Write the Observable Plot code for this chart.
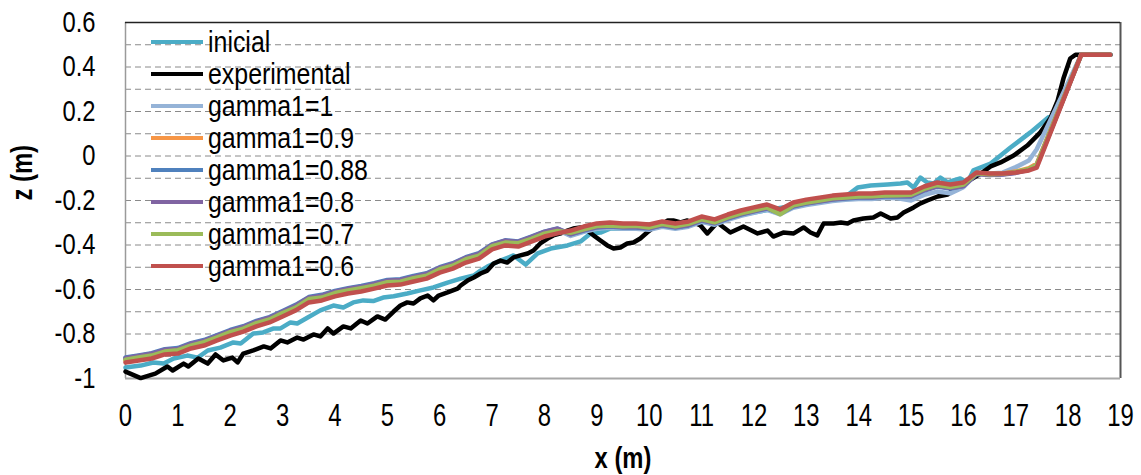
<!DOCTYPE html>
<html>
<head>
<meta charset="utf-8">
<script src="https://cdn.jsdelivr.net/npm/d3@7"></script>
<script src="https://cdn.jsdelivr.net/npm/@observablehq/plot@0.6"></script>
<style>
  html, body { margin: 0; padding: 0; background: #fff; }
  #wrap { position: relative; width: 1141px; height: 475px; }
  #legend { position: absolute; left: 150px; top: 26px; }
  .row { display: flex; align-items: center; height: 32px; }
  .row svg { display: block; margin-right: 4px; flex: none; }
  .row span { display: inline-block; font-family: 'Liberation Sans', Arial, sans-serif; font-size: 30px; color: #000; line-height: 32px; white-space: nowrap; transform: scaleX(0.83); transform-origin: left center; }
</style>
</head>
<body>
<div id="wrap"><div id="legend"></div></div>
<script>
const FONT = "'Liberation Sans', Arial, sans-serif";

// ---- ticks / grid ----
const xTicks = [0,1,2,3,4,5,6,7,8,9,10,11,12,13,14,15,16,17,18,19];
const yTicks = [-1,-0.8,-0.6,-0.4,-0.2,0,0.2,0.4,0.6];
const gridLevels = [-0.9,-0.8,-0.7,-0.6,-0.5,-0.4,-0.3,-0.2,-0.1,0,0.1,0.2,0.3,0.4,0.5];
const xDomain = [0, 19];
const yDomain = [-1, 0.6];

// ---- series names / colours ----
const names = ["inicial","experimental","gamma1=1","gamma1=0.9","gamma1=0.88","gamma1=0.8","gamma1=0.7","gamma1=0.6"];
const colors = ["#4bacc6","#000000","#95b3d7","#f79646","#4f81bd","#8064a2","#9bbb59","#c0504d"];

// ---- inicial ----
const xIni = [0,0.29,0.53,0.73,0.92,1.18,1.38,1.57,1.81,2.06,2.2,2.44,2.63,2.83,2.96,3.15,3.28,3.48,3.72,3.97,4.16,4.35,4.54,4.73,4.92,5.12,5.38,5.63,5.88,6.15,6.4,6.65,6.78,6.91,7.16,7.41,7.64,7.87,8.12,8.44,8.69,8.88,9.07,9.26,9.45,10.01,11.0,11.99,13.0,13.75,13.98,14.23,14.55,14.8,14.93,15.05,15.18,15.31,15.43,15.56,15.7,15.81,15.94,16.08,16.19,16.52,16.9,17.28,17.62];
const zIni = [-0.951,-0.942,-0.928,-0.933,-0.910,-0.897,-0.906,-0.874,-0.861,-0.838,-0.843,-0.798,-0.793,-0.775,-0.775,-0.748,-0.753,-0.726,-0.694,-0.672,-0.681,-0.658,-0.649,-0.652,-0.636,-0.630,-0.618,-0.604,-0.591,-0.569,-0.551,-0.537,-0.515,-0.497,-0.470,-0.447,-0.488,-0.438,-0.416,-0.402,-0.384,-0.348,-0.344,-0.326,-0.326,-0.317,-0.299,-0.254,-0.213,-0.182,-0.142,-0.133,-0.128,-0.124,-0.119,-0.142,-0.097,-0.119,-0.124,-0.097,-0.119,-0.110,-0.101,-0.119,-0.065,-0.034,0.038,0.106,0.173];

// ---- experimental ----
const xExp = [0,0.29,0.57,0.8,0.9,1.11,1.2,1.39,1.57,1.72,1.87,2.04,2.14,2.25,2.44,2.64,2.77,2.96,3.09,3.28,3.4,3.59,3.72,3.86,3.97,4.16,4.3,4.49,4.62,4.81,4.96,5.12,5.25,5.38,5.5,5.63,5.77,5.88,5.98,6.15,6.34,6.4,6.53,6.65,6.78,6.91,7.03,7.16,7.29,7.41,7.54,7.68,7.79,7.92,8.06,8.17,8.31,8.44,8.55,8.69,8.82,8.94,9.07,9.2,9.32,9.45,9.58,9.7,9.83,9.96,10.08,10.22,10.35,10.46,10.6,10.73,10.85,10.98,11.11,11.3,11.55,11.8,12.07,12.26,12.37,12.56,12.76,12.95,13.08,13.21,13.33,13.52,13.66,13.79,13.9,14.09,14.28,14.42,14.61,14.74,14.86,15.05,15.18,15.31,15.51,15.7,15.81,15.94,16.14,16.33,16.52,16.71,16.96,17.22,17.47,17.66,17.8,17.91,18.04,18.14,18.81];
const zExp = [-0.969,-0.998,-0.978,-0.946,-0.964,-0.933,-0.946,-0.910,-0.933,-0.892,-0.919,-0.906,-0.928,-0.888,-0.874,-0.856,-0.865,-0.829,-0.838,-0.816,-0.825,-0.802,-0.811,-0.775,-0.798,-0.766,-0.775,-0.739,-0.753,-0.721,-0.735,-0.699,-0.672,-0.658,-0.663,-0.640,-0.627,-0.649,-0.627,-0.613,-0.596,-0.582,-0.560,-0.546,-0.528,-0.515,-0.483,-0.470,-0.479,-0.456,-0.447,-0.438,-0.425,-0.393,-0.371,-0.357,-0.348,-0.335,-0.326,-0.321,-0.335,-0.357,-0.380,-0.402,-0.416,-0.411,-0.393,-0.389,-0.371,-0.344,-0.321,-0.312,-0.290,-0.290,-0.299,-0.290,-0.299,-0.312,-0.348,-0.299,-0.344,-0.317,-0.348,-0.335,-0.362,-0.344,-0.348,-0.321,-0.344,-0.357,-0.303,-0.303,-0.299,-0.303,-0.290,-0.281,-0.276,-0.258,-0.281,-0.276,-0.254,-0.231,-0.213,-0.200,-0.182,-0.173,-0.151,-0.133,-0.106,-0.079,-0.047,-0.029,0.002,0.047,0.106,0.169,0.249,0.348,0.438,0.455,0.455];

// ---- simulations (shared x) ----
const xSim = [0,0.25,0.5,0.75,1,1.25,1.5,1.75,2,2.25,2.5,2.75,3,3.25,3.5,3.75,4,4.25,4.5,4.75,5,5.25,5.5,5.75,6,6.25,6.5,6.75,7,7.25,7.5,7.75,8,8.25,8.5,8.75,9,9.25,9.5,9.75,10,10.25,10.5,10.75,11,11.25,11.5,11.75,12,12.25,12.5,12.75,13,13.25,13.5,13.75,14,14.25,14.5,14.75,15,15.25,15.5,15.75,16,16.25,16.5,16.75,17,17.25,17.4,18.25,18.8];

const zG100 = [-0.912,-0.903,-0.894,-0.876,-0.872,-0.849,-0.836,-0.813,-0.791,-0.773,-0.750,-0.732,-0.705,-0.678,-0.642,-0.633,-0.615,-0.602,-0.593,-0.580,-0.566,-0.562,-0.548,-0.535,-0.508,-0.490,-0.463,-0.445,-0.404,-0.386,-0.391,-0.369,-0.346,-0.332,
 -0.359,-0.341,-0.327,-0.323,-0.327,-0.327,-0.332,-0.318,-0.327,-0.318,-0.296,-0.309,-0.287,-0.269,-0.255,-0.242,-0.262,-0.233,-0.220,-0.211,-0.202,-0.197,-0.193,-0.193,-0.188,-0.190,-0.200,-0.175,-0.160,-0.168,-0.140,
 -0.080,-0.079,-0.075,-0.050,-0.020,0.030,0.455,0.455];

const zG090 = [-0.919,-0.909,-0.899,-0.883,-0.877,-0.855,-0.841,-0.820,-0.796,-0.779,-0.757,-0.737,-0.711,-0.684,-0.647,-0.640,-0.620,-0.608,-0.598,-0.586,-0.571,-0.568,-0.553,-0.541,-0.513,-0.496,-0.468,-0.452,-0.410,-0.392,-0.397,-0.376,-0.353,-0.340,
 -0.342,-0.326,-0.311,-0.307,-0.311,-0.312,-0.316,-0.302,-0.311,-0.302,-0.280,-0.293,-0.271,-0.253,-0.239,-0.226,-0.252,-0.217,-0.204,-0.195,-0.186,-0.181,-0.177,-0.177,-0.172,-0.172,-0.171,-0.145,-0.127,-0.136,-0.125,
 -0.076,-0.081,-0.079,-0.070,-0.055,-0.035,0.455,0.455];

const zG088 = [-0.906,-0.896,-0.886,-0.868,-0.863,-0.841,-0.827,-0.805,-0.782,-0.765,-0.741,-0.724,-0.697,-0.669,-0.634,-0.624,-0.606,-0.594,-0.584,-0.572,-0.557,-0.554,-0.539,-0.527,-0.500,-0.482,-0.455,-0.437,-0.397,-0.379,-0.384,-0.362,-0.340,-0.326,
 -0.352,-0.335,-0.321,-0.317,-0.321,-0.321,-0.326,-0.312,-0.321,-0.312,-0.290,-0.303,-0.281,-0.263,-0.249,-0.236,-0.258,-0.227,-0.214,-0.205,-0.196,-0.191,-0.187,-0.187,-0.182,-0.182,-0.182,-0.155,-0.137,-0.146,-0.135,
 -0.080,-0.084,-0.082,-0.074,-0.060,-0.042,0.455,0.455];

const zG080 = [-0.909,-0.899,-0.889,-0.871,-0.867,-0.844,-0.831,-0.808,-0.786,-0.768,-0.745,-0.727,-0.700,-0.673,-0.637,-0.628,-0.610,-0.597,-0.588,-0.575,-0.561,-0.557,-0.543,-0.530,-0.503,-0.485,-0.458,-0.440,-0.399,-0.381,-0.386,-0.364,-0.341,-0.327,
 -0.351,-0.333,-0.319,-0.315,-0.319,-0.319,-0.324,-0.310,-0.319,-0.310,-0.288,-0.301,-0.279,-0.261,-0.247,-0.234,-0.256,-0.225,-0.212,-0.203,-0.194,-0.189,-0.185,-0.185,-0.180,-0.180,-0.180,-0.153,-0.135,-0.144,-0.135,
 -0.081,-0.085,-0.083,-0.076,-0.062,-0.044,0.455,0.455];

const zG070 = [-0.916,-0.906,-0.897,-0.879,-0.873,-0.852,-0.837,-0.815,-0.792,-0.776,-0.751,-0.735,-0.706,-0.681,-0.643,-0.636,-0.616,-0.604,-0.594,-0.583,-0.567,-0.565,-0.549,-0.538,-0.509,-0.493,-0.464,-0.448,-0.405,-0.389,-0.392,-0.372,-0.349,-0.337,
 -0.345,-0.330,-0.315,-0.312,-0.316,-0.314,-0.321,-0.306,-0.316,-0.305,-0.285,-0.298,-0.276,-0.258,-0.244,-0.231,-0.262,-0.222,-0.209,-0.200,-0.190,-0.186,-0.182,-0.181,-0.177,-0.176,-0.174,-0.148,-0.130,-0.140,-0.128,
 -0.078,-0.082,-0.080,-0.072,-0.058,-0.040,0.455,0.455];

const zG060 = [-0.928,-0.919,-0.910,-0.892,-0.888,-0.865,-0.852,-0.829,-0.807,-0.789,-0.766,-0.748,-0.721,-0.694,-0.658,-0.649,-0.631,-0.618,-0.609,-0.596,-0.582,-0.578,-0.564,-0.551,-0.524,-0.506,-0.479,-0.461,-0.420,-0.402,-0.407,-0.385,-0.362,-0.348,
 -0.335,-0.317,-0.303,-0.299,-0.303,-0.303,-0.308,-0.294,-0.303,-0.294,-0.272,-0.285,-0.263,-0.245,-0.231,-0.218,-0.240,-0.209,-0.196,-0.187,-0.178,-0.173,-0.169,-0.169,-0.164,-0.164,-0.164,-0.137,-0.119,-0.128,-0.119,
 -0.074,-0.079,-0.079,-0.074,-0.065,-0.052,0.455,0.455];

const seriesX = [xIni, xExp, xSim, xSim, xSim, xSim, xSim, xSim];
const seriesZ = [zIni, zExp, zG100, zG090, zG088, zG080, zG070, zG060];

const rows = names.flatMap((name, k) => seriesX[k].map((x, i) => ({x, z: seriesZ[k][i], name})));

const fmt = d => String(Math.round(d * 10) / 10);

const chart = Plot.plot({
  width: 1141,
  height: 475,
  marginLeft: 125,
  marginRight: 21,
  marginTop: 22,
  marginBottom: 97,
  style: {fontFamily: FONT, fontSize: "29px", background: "#fff", color: "#000", overflow: "visible"},
  x: {domain: xDomain, ticks: xTicks, tickSize: 0, tickPadding: 25, tickFormat: d => String(d), label: null},
  y: {domain: yDomain, ticks: yTicks, tickSize: 0, tickPadding: 30, tickFormat: fmt, label: null},
  color: {domain: names, range: colors},
  marks: [
    Plot.ruleY(gridLevels, {stroke: "#8a8a8a", strokeWidth: 1, strokeDasharray: "6,4"}),
    Plot.ruleX([xDomain[0]], {stroke: "#9a9a9a", strokeWidth: 1.5}),
    Plot.ruleX([xDomain[1]], {stroke: "#555", strokeWidth: 2}),
    Plot.ruleY([yDomain[0]], {stroke: "#a8a8a8", strokeWidth: 2}),
    Plot.ruleY([yDomain[1]], {stroke: "#222", strokeWidth: 1.5}),
    Plot.line(rows, {x: "x", y: "z", z: "name", stroke: "name", strokeWidth: 4.5, strokeLinejoin: "round", strokeLinecap: "round"}),
    Plot.text(["x (m)"], {frameAnchor: "bottom", dy: 80, text: d => d, fontWeight: "bold", fontSize: 29, lineAnchor: "middle"}),
    Plot.text(["z (m)"], {frameAnchor: "left", dx: -103, text: d => d, fontWeight: "bold", fontSize: 29, rotate: -90, lineAnchor: "middle"})
  ]
});

// x tick labels are drawn taller and narrower in the reference
const xTickGroup = chart.querySelector('[aria-label="x-axis tick label"]');
if (xTickGroup) xTickGroup.setAttribute("font-size", "31");

// narrow the glyphs (Arial Narrow look) around each text's own anchor point
chart.querySelectorAll("text").forEach(t => {
  const tr = t.getAttribute("transform") || "";
  const x = parseFloat(t.getAttribute("x")) || 0;
  const s = (xTickGroup && xTickGroup.contains(t)) ? 0.77 : 0.82;
  t.setAttribute("transform", `${tr} translate(${x},0) scale(${s},1) translate(${-x},0)`);
});

document.getElementById("wrap").prepend(chart);

// legend
const legend = document.getElementById("legend");
names.forEach((name, k) => {
  const row = document.createElement("div");
  row.className = "row";
  row.innerHTML = `<svg width="54" height="8"><line x1="1" y1="4" x2="53" y2="4" stroke="${colors[k]}" stroke-width="4"/></svg><span>${name}</span>`;
  legend.appendChild(row);
});
</script>
</body>
</html>
